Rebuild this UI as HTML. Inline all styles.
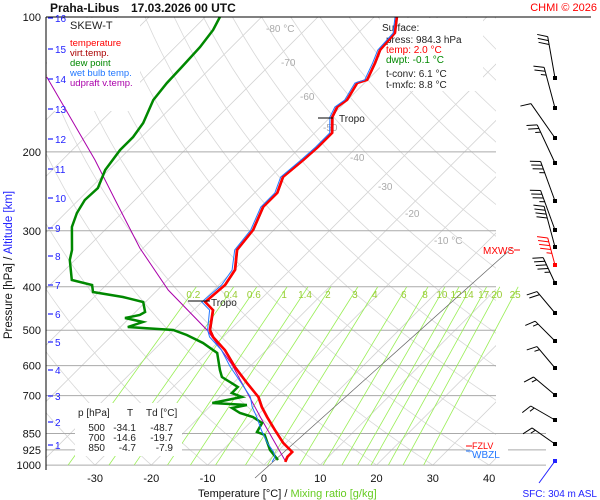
<!DOCTYPE html>
<html><head><meta charset="utf-8"><style>
html,body{margin:0;padding:0;background:#fff;}
svg{display:block;font-family:"Liberation Sans",sans-serif;}
</style></head><body>
<svg id="chart" width="600" height="500" viewBox="0 0 600 500">
<defs><clipPath id="plotclip"><rect x="46" y="17" width="450" height="448"/></clipPath></defs>
<rect x="0" y="0" width="600" height="500" fill="#fff"/>
<g id="grid" clip-path="url(#plotclip)"></g>
<g id="isolabels"></g>
<g id="plines"></g>
<g id="mixlines"></g>
<line x1="255" y1="478" x2="512" y2="248" stroke="#666" stroke-width="0.7"/>
<text x="483" y="254" font-size="10" fill="#f00">MXWS</text>
<line x1="514" y1="250" x2="520" y2="250" stroke="#f00"/>
<g>
<rect x="47" y="18" width="93" height="93" fill="#fff"/>
<text x="70" y="29" font-size="11" fill="#222">SKEW-T</text>
<text x="70" y="46" font-size="9.5" fill="#f00">temperature</text>
<text x="70" y="56" font-size="9.5" fill="#a00">virt.temp.</text>
<text x="70" y="66" font-size="9.5" fill="#080">dew point</text>
<text x="70" y="76" font-size="9.5" fill="#27f">wet bulb temp.</text>
<text x="70" y="86" font-size="9.5" fill="#a0a">udpraft v.temp.</text>
</g>
<g>
<rect x="380" y="18" width="103" height="73" fill="#fff"/>
<text x="382" y="31" font-size="10" fill="#222">Surface:</text>
<text x="386" y="43" font-size="10" fill="#222">press: 984.3 hPa</text>
<text x="386" y="53" font-size="10" fill="#f00">temp: 2.0 °C</text>
<text x="386" y="63" font-size="10" fill="#080">dwpt: -0.1 °C</text>
<text x="386" y="77" font-size="10" fill="#222">t-conv: 6.1 °C</text>
<text x="386" y="88" font-size="10" fill="#222">t-mxfc: 8.8 °C</text>
</g>
<g>
<rect x="75" y="403" width="107" height="53" fill="#fff"/>
<text x="78" y="416" font-size="10" fill="#222">p [hPa]</text>
<text x="127" y="416" font-size="10" fill="#222">T</text>
<text x="146" y="416" font-size="10" fill="#222">Td [°C]</text>
<g font-size="10" fill="#222" text-anchor="end">
<text x="105" y="431">500</text>
<text x="136" y="431">-34.1</text>
<text x="173" y="431">-48.7</text>
<text x="105" y="441">700</text>
<text x="136" y="441">-14.6</text>
<text x="173" y="441">-19.7</text>
<text x="105" y="451">850</text>
<text x="136" y="451">-4.7</text>
<text x="173" y="451">-7.9</text>
</g>
</g>
<g id="series"></g>
<line x1="318" y1="118" x2="333" y2="118" stroke="#000"/>
<text x="339" y="122" font-size="10" fill="#222">Tropo</text>
<line x1="188" y1="301" x2="210" y2="301" stroke="#000"/>
<text x="211" y="306" font-size="10" fill="#222">Tropo</text>
<line x1="46" y1="17" x2="591" y2="17" stroke="#000"/>
<line x1="46" y1="17" x2="46" y2="470" stroke="#000"/>
<rect x="470" y="442" width="38" height="14" fill="#fff"/>
<line x1="466" y1="446" x2="472" y2="446" stroke="#f00"/>
<text x="472" y="449" font-size="9" fill="#f00">FZLV</text>
<line x1="466" y1="451" x2="472" y2="451" stroke="#27f"/>
<text x="472" y="458" font-size="10" fill="#27f">WBZL</text>
<g id="yaxis"></g>
<g id="altaxis"></g>
<g id="xaxis"></g>
<g id="barbs"></g>
<text x="50" y="12" font-size="12" font-weight="bold" fill="#111">Praha-Libus</text>
<text x="131" y="12" font-size="12" font-weight="bold" fill="#111">17.03.2026 00 UTC</text>
<text x="597" y="11" font-size="11" fill="#f00" text-anchor="end">CHMI © 2026</text>
<text transform="translate(12,265) rotate(-90)" font-size="11.5" text-anchor="middle"><tspan fill="#111">Pressure [hPa] / </tspan><tspan fill="#22f">Altitude [km]</tspan></text>
<text x="198" y="497" font-size="11"><tspan fill="#111">Temperature [°C] / </tspan><tspan fill="#6c2">Mixing ratio [g/kg]</tspan></text>
<text x="597" y="497" font-size="10" fill="#22f" text-anchor="end">SFC: 304 m ASL</text>
</svg>
<script>
// ---- data ----
const tempP = [100,108.6,118.5,126.7,138.2,140.4,153.2,158.8,167.2,181.5,195,208.5,227.5,247,265.5,298.8,331.1,367,396.4,432.6,450.7,499.5,517.7,553.5,603.9,655.9,704.7,742,781,835,892.6,935,959,984];
const tempT = [-56,-53.5,-53.1,-51.7,-50.1,-51.3,-50.1,-50.6,-49.7,-46.9,-46.9,-47.2,-47.8,-46,-46,-43.7,-43,-39.8,-38.9,-39.4,-36.6,-33.6,-31.8,-27.4,-22.6,-17.6,-13.1,-10.7,-8,-4.3,-0.5,2.7,2.7,3.2];
const wetT  = [-56.3,-53.8,-53.5,-52.1,-50.5,-51.7,-50.5,-51,-50.1,-47.3,-47.3,-47.6,-48.2,-46.4,-46.4,-44.1,-43.4,-40.3,-39.5,-40,-37.2,-34,-32.4,-28,-23.4,-18.6,-14.5,-12.4,-9.8,-6.7,-3.3,-0.6,0.5,0.9];
const dewP = [100,106.9,116.7,129.3,140.4,153.2,172.4,185.3,198.1,219.5,240.8,256.1,273.8,294.2,331.1,348.6,386.3,396.4,410.9,421.6,432.6,455.4,462.5,469.7,479.4,491.8,499.5,512.5,534,562.2,613.5,636,652.5,669.5,690.5,704.7,726.8,734.3,745.8,765.1,781,805.5,843.7,856.8,925.4,974.3];
const dewT = [-87.4,-86.3,-85.6,-85.3,-85.1,-84.5,-82.2,-81.5,-81.5,-80.6,-78.7,-78.9,-78,-76.4,-72.3,-70.9,-67,-62.5,-61.1,-54.9,-50.4,-48.3,-48.7,-50.8,-46.9,-48.7,-40.1,-36.8,-32.5,-28.2,-24.7,-23.1,-20.8,-18.5,-18.5,-16,-20.2,-13.7,-15.8,-13.5,-10.5,-7.8,-7.1,-5.2,-1.6,1.6];
const updP = [136.1,208.5,256.1,327.8,406.6,499.5,598,794,974];
const updT = [-107.5,-84.2,-73.5,-60.6,-48.1,-34.1,-23.4,-8.3,2.8];
const pressureTicks = [100,200,300,400,500,600,700,850,925,1000];
const tempTicks = [-30,-20,-10,0,10,20,30,40];
const altTicks = [1,2,3,4,5,6,7,8,9,10,11,12,13,14,15,16];
const altY = [445,422,396,370,342,314,285,256,228,198,169,139,109,79,49,18];
const mixRatios = [0.2,0.4,0.6,1,1.4,2,3,4,6,8,10,12,14,17,20,25];
const windY = [78,108,138,163,201,230,247,265,283,313,341,368,395,420,444];
const windDir = [350,345,325,335,340,340,345,345,335,320,315,320,310,300,305];
const windSpd = [30,25,10,25,35,35,40,45,45,20,15,15,15,15,15];
// ---- scales ----
const NS='http://www.w3.org/2000/svg';
function Y(p){return 17+194.6*Math.log(p/100);}
function X(T,p){return 264+5.63*T+(465-Y(p));}
function mk(tag,attrs,parent){const e=document.createElementNS(NS,tag);for(const k in attrs)e.setAttribute(k,attrs[k]);parent.appendChild(e);return e;}
const grid=document.getElementById('grid');
for(let T=-130;T<=50;T+=10){
 const l=mk('line',{x1:X(T,1050),y1:Y(1050),x2:X(T,100),y2:Y(100),stroke:'#d2d2d2','stroke-width':0.8},grid);
 
 
}
for(let th=-40;th<=220;th+=10){
 let d='';
 for(let p=1050;p>=100;p-=10){const T=(th+273.15)*Math.pow(p/1000,0.286)-273.15;d+=(d?'L':'M')+X(T,p).toFixed(1)+','+Y(p).toFixed(1);}
 const e=mk('path',{d:d,fill:'none',stroke:'#d8d8d8','stroke-width':0.8},grid);
 
 
}
const il=document.getElementById('isolabels');
const isoLab=[[-80,266,32,' °C'],[-70,281,66,''],[-60,300,100,''],[-50,323,131,''],[-40,350,161,''],[-30,378,190,''],[-20,405,217,''],[-10,434,244,' °C']];
isoLab.forEach(a=>{const t=mk('text',{x:a[1],y:a[2],'font-size':10,fill:'#aaa'},il);t.textContent=a[0]+a[3];
 
 });
const pl=document.getElementById('plines'),ya=document.getElementById('yaxis');
pressureTicks.forEach(p=>{
 if(p===100)return;
 const x2=p>=850?546:496;
 const l=mk('line',{x1:46,y1:Y(p),x2:x2,y2:Y(p),stroke:'#aaa','stroke-width':1},pl);
 
 
});
pressureTicks.forEach(p=>{
 const t=mk('text',{x:41,y:Y(p)+4,'font-size':11,fill:'#111','text-anchor':'end'},ya);t.textContent=p;
 
 
});
const aa=document.getElementById('altaxis');
altTicks.forEach((a,i)=>{
 const l=mk('line',{x1:48,y1:altY[i],x2:53,y2:altY[i],stroke:'#22f','stroke-width':1.2},aa);
 
 
 const t=mk('text',{x:55,y:altY[i]+4,'font-size':10,fill:'#22f'},aa);t.textContent=a;
 
 
});
const xa=document.getElementById('xaxis');
tempTicks.forEach(T=>{
 const t=mk('text',{x:X(T,1000),y:482,'font-size':11,fill:'#111','text-anchor':'middle'},xa);t.textContent=T;
 
 
});
const ml=document.getElementById('mixlines');
function tdFromW(w,p){const e=w*p/(622+w);const l=Math.log(e/6.112);return 243.5*l/(17.67-l);}
mixRatios.forEach(w=>{
 const l=mk('line',{x1:X(tdFromW(w,1000),1000),y1:Y(1000),x2:X(tdFromW(w,400),400),y2:Y(400),stroke:'#9e5','stroke-width':0.8},ml);
 
 
 const t=mk('text',{x:X(tdFromW(w,400),400)-3,y:298,'font-size':10,fill:'#9c3','text-anchor':'middle'},ml);t.textContent=w;
 
 
});
const sg=document.getElementById('series');
function path(P,T,dx){let d='';P.forEach((p,i)=>{d+=(i?'L':'M')+(X(T[i],p)+dx).toFixed(1)+','+Y(p).toFixed(1);});return d;}
const s1=mk('path',{d:path(updP,updT,0),fill:'none',stroke:'#a0a','stroke-width':1},sg);


const s2=mk('path',{d:path(dewP,dewT,0),fill:'none',stroke:'#080','stroke-width':2.5},sg);


const s3=mk('path',{d:path(tempP,tempT,1),fill:'none',stroke:'#a00','stroke-width':1},sg);


const s4=mk('path',{d:path(tempP,tempT,0),fill:'none',stroke:'#f00','stroke-width':2.5},sg);


const s5=mk('path',{d:path(tempP,wetT,0),fill:'none',stroke:'#27f','stroke-width':1},sg);


const bg=document.getElementById('barbs');
windY.forEach((y,i)=>{
 const a=windDir[i]*Math.PI/180,L=y<260?42:28,x0=555;
 const ux=Math.sin(a),uy=-Math.cos(a);
 const x1=x0+ux*L,y1=y+uy*L;
 const col=(i===7)?'#f00':'#000';
 const st=mk('line',{x1:x0,y1:y,x2:x1,y2:y1,stroke:col,'stroke-width':1},bg);
 
 
 const dot=mk('rect',{x:x0-2,y:y-2,width:4,height:4,fill:col},bg);
 
 
 let s=windSpd[i],k=0;
 const px=-uy,py=ux;
 while(s>=5){
  const f=s>=10?1:0.5;
  const bx=x1-ux*k*4,by=y1-uy*k*4;
  const fl=mk('line',{x1:bx,y1:by,x2:bx-px*10*f+ux*4*f,y2:by-py*10*f+uy*4*f,stroke:col,'stroke-width':1},bg);
  
  
  s-=s>=10?10:5;k++;
 }
});
const sfc=mk('line',{x1:555,y1:461,x2:539,y2:483,stroke:'#22f','stroke-width':1},bg);


const sd=mk('rect',{x:553,y:459,width:4,height:4,fill:'#22f'},bg);


</script>
</body></html>
